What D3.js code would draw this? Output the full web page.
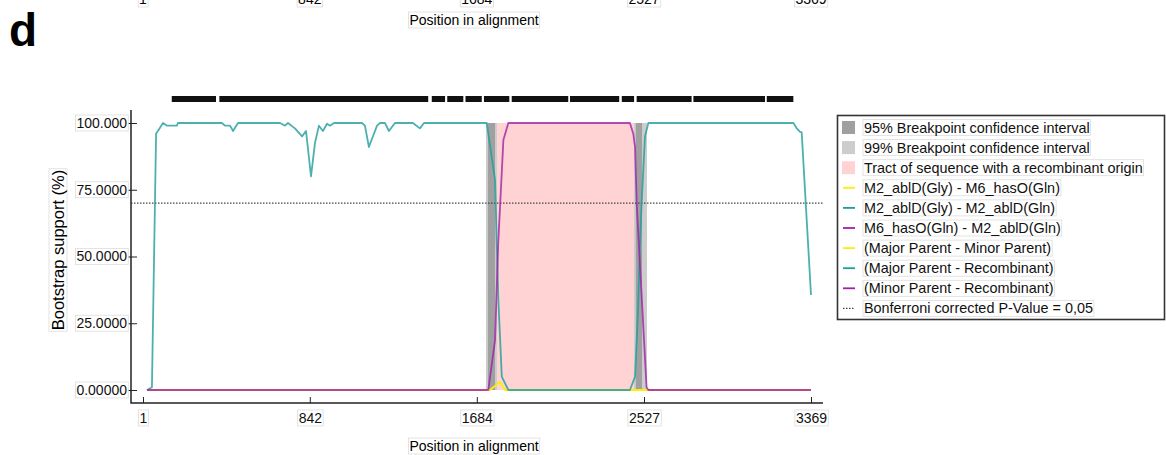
<!DOCTYPE html>
<html>
<head>
<meta charset="utf-8">
<script src="https://cdn.jsdelivr.net/npm/d3@7"></script>
<style>
  body { margin: 0; background: #fff; }
  svg { display: block; font-family: "Liberation Sans", Arial, sans-serif; }
</style>
</head>
<body>
<svg width="1166" height="455"></svg>
<script>
// position ticks and y tick labels
var xTicks = [1, 842, 1684, 2527, 3369];
var yTicks = [0, 25, 50, 75, 100];
var yTickLabels = ["0.00000", "25.0000", "50.0000", "75.0000", "100.000"];

// bootstrap support per position [position, value]
var majorMinor = [[21,0],[1750,0],[1801,3],[1826,0],[3369,0]];
var majorRec = [[21,0],[46,1],[67,96],[102,100],[122,99],[172,99],[177,100],[399,100],[414,99],[440,99],
  [455,97],[480,100],[692,100],[717,99],[732,100],[767,98],[803,95],[823,97],[848,80],[868,92.5],
  [888,99],[908,97],[929,99.7],[944,99],[964,100],[1105,100],[1120,99],[1140,91],[1181,99],[1196,100],
  [1221,100],[1241,97],[1271,100],[1362,100],[1397,98],[1418,100],[1734,100],[1776,78.7],[1792,35],
  [1810,5],[1843,0],[2456,0],[2482,5],[2497,30],[2507,55],[2515,70],[2532,95],[2549,100],[3280,100],
  [3297,98],[3314,96.7],[3322,96.5],[3369,35.6]];
var minorRec = [[21,0],[1742,0],[1776,18.7],[1792,55],[1818,93.6],[1843,100],[2456,100],[2473,96],
  [2482,91],[2490,70],[2540,1],[2549,0],[3369,0]];

// shaded regions [start, end] in positions
var ci99 = [[1730,1786],[2476,2542]];
var ci95 = [[1740,1776],[2486,2517]];
var tract = [[1776,2486]];
var threshold = 70;

// informative site blocks along the top
var siteBlocks = [[146,369],[386,1439],[1457,1524],[1535,1616],[1627,1709],[1720,1848],[1860,2145],
  [2154,2402],[2415,2477],[2490,2767],[2776,3137],[3146,3280]];

var legendLabels = ["95% Breakpoint confidence interval", "99% Breakpoint confidence interval",
  "Tract of sequence with a recombinant origin", "M2_ablD(Gly) - M6_hasO(Gln)",
  "M2_ablD(Gly) - M2_ablD(Gln)", "M6_hasO(Gln) - M2_ablD(Gln)", "(Major Parent - Minor Parent)",
  "(Major Parent - Recombinant)", "(Minor Parent - Recombinant)", "Bonferroni corrected P-Value = 0,05"];
var legendKinds = ["rect95", "rect99", "rectTract", "yellow", "teal", "purple", "yellow", "teal", "purple", "dots"];

var col = { yellow: "#ffee00", teal: "#1f9c9c", purple: "#a020a8", c95: "#a0a0a0", c99: "#cdcdcd", tract: "#ffd3d3" };

var svg = d3.select("svg");
var x = d3.scaleLinear().domain([1, 3369]).range([143, 811]);
var y = d3.scaleLinear().domain([0, 100]).range([390, 123]);

// faint box round a text, as in the original export
function boxify(sel) {
  sel.each(function() {
    var b = this.getBBox(), t = this;
    d3.select(t.parentNode).insert("rect", function() { return t; })
      .attr("transform", t.getAttribute("transform"))
      .attr("x", b.x - 1).attr("y", b.y).attr("width", b.width + 2).attr("height", b.height)
      .attr("fill", "#fff").attr("stroke", "#dcdcdc").attr("stroke-width", 0.8);
  });
}

// panel letter and cut remnants of the panel above
svg.append("text").attr("x", 9).attr("y", 46).attr("font-size", 46).attr("font-weight", "bold").text("d");
var above = svg.append("g");
above.selectAll("text.rt").data(xTicks).enter().append("text")
  .attr("x", function(d) { return x(d); }).attr("y", 4).attr("text-anchor", "middle")
  .attr("font-size", 14).text(function(d) { return d; });
above.append("text").attr("x", 474).attr("y", 25).attr("text-anchor", "middle").attr("font-size", 14)
  .text("Position in alignment");
boxify(above.selectAll("text"));

// shaded intervals
var plot = svg.append("g");
plot.selectAll(".tract").data(tract).enter().append("rect")
  .attr("x", function(d) { return x(d[0]); }).attr("width", function(d) { return x(d[1]) - x(d[0]); })
  .attr("y", y(100)).attr("height", y(0) - y(100)).attr("fill", col.tract);
plot.selectAll(".c99").data(ci99).enter().append("rect")
  .attr("x", function(d) { return x(d[0]); }).attr("width", function(d) { return x(d[1]) - x(d[0]); })
  .attr("y", y(100)).attr("height", y(0) - y(100)).attr("fill", col.c99);
plot.selectAll(".c95").data(ci95).enter().append("rect")
  .attr("x", function(d) { return x(d[0]); }).attr("width", function(d) { return x(d[1]) - x(d[0]); })
  .attr("y", y(100)).attr("height", y(0) - y(100)).attr("fill", col.c95);

// site blocks
svg.append("g").selectAll("rect").data(siteBlocks).enter().append("rect")
  .attr("x", function(d) { return x(d[0]); }).attr("width", function(d) { return x(d[1]) - x(d[0]); })
  .attr("y", 96).attr("height", 6).attr("fill", "#111");

// threshold line
svg.append("line").attr("x1", 131).attr("x2", 823).attr("y1", y(threshold)).attr("y2", y(threshold))
  .attr("stroke", "#444").attr("stroke-width", 1.1).attr("stroke-dasharray", "1.5,1.5");

// lines: yellow underneath, the others slightly see-through so the zero line blends
var line = d3.line().x(function(d) { return x(d[0]); }).y(function(d) { return y(d[1]); });
[[majorMinor, col.yellow, 1], [majorRec, col.teal, 0.8], [minorRec, col.purple, 0.8]].forEach(function(s) {
  svg.append("path").datum(s[0]).attr("d", line).attr("fill", "none")
    .attr("stroke", s[1]).attr("stroke-width", 1.8).attr("stroke-opacity", s[2])
    .attr("stroke-linejoin", "round");
});

// axes
var gx = svg.append("g").attr("transform", "translate(0,403)")
  .call(d3.axisBottom(x).tickValues(xTicks).tickSizeInner(-6).tickSizeOuter(0).tickPadding(10).tickFormat(d3.format("d")));
gx.select(".domain").remove();
gx.selectAll("text").attr("font-size", 14).attr("font-family", null).attr("fill", "#111");
gx.selectAll("line").attr("stroke", "#222");
boxify(gx.selectAll("text"));

var gy = svg.append("g").attr("transform", "translate(131,0)")
  .call(d3.axisLeft(y).tickValues(yTicks).tickSizeInner(-6).tickSizeOuter(0).tickPadding(4)
    .tickFormat(function(d, i) { return yTickLabels[i]; }));
gy.select(".domain").remove();
gy.selectAll("text").attr("font-size", 14).attr("font-family", null).attr("fill", "#111");
gy.selectAll("line").attr("x1", -3).attr("stroke", "#222");
boxify(gy.selectAll("text"));

svg.append("path").attr("d", "M131,110V403H823").attr("fill", "none").attr("stroke", "#222").attr("stroke-width", 1.5);

var lab = svg.append("g");
lab.append("text").attr("x", 474).attr("y", 451).attr("text-anchor", "middle").attr("font-size", 14)
  .text("Position in alignment");
lab.append("text").attr("transform", "translate(64,250) rotate(-90)").attr("text-anchor", "middle")
  .attr("font-size", 16.5).text("Bootstrap support (%)");
boxify(lab.selectAll("text"));

// legend
var lg = svg.append("g");
lg.append("rect").attr("x", 837.5).attr("y", 115.5).attr("width", 327).attr("height", 204)
  .attr("fill", "#fff").attr("stroke", "#333").attr("stroke-width", 1.6);
var rows = lg.selectAll("g.row").data(legendLabels).enter().append("g")
  .attr("transform", function(d, i) { return "translate(0," + (127.5 + i * 20.1) + ")"; });
rows.each(function(d, i) {
  var g = d3.select(this), k = legendKinds[i];
  if (k.indexOf("rect") === 0) {
    var f = k === "rect95" ? col.c95 : k === "rect99" ? col.c99 : col.tract;
    g.append("rect").attr("x", 842).attr("y", -6.5).attr("width", 13).attr("height", 13).attr("fill", f);
  } else if (k === "dots") {
    g.append("line").attr("x1", 843).attr("x2", 855).attr("stroke", "#444")
      .attr("stroke-dasharray", "1.5,1.5").attr("stroke-width", 1.1);
  } else {
    g.append("line").attr("x1", 843).attr("x2", 855).attr("stroke", col[k]).attr("stroke-width", 1.8);
  }
  g.append("text").attr("x", 864).attr("y", 5).attr("font-size", 14.4).attr("fill", "#111").text(d);
});
boxify(rows.selectAll("text"));
</script>
</body>
</html>
